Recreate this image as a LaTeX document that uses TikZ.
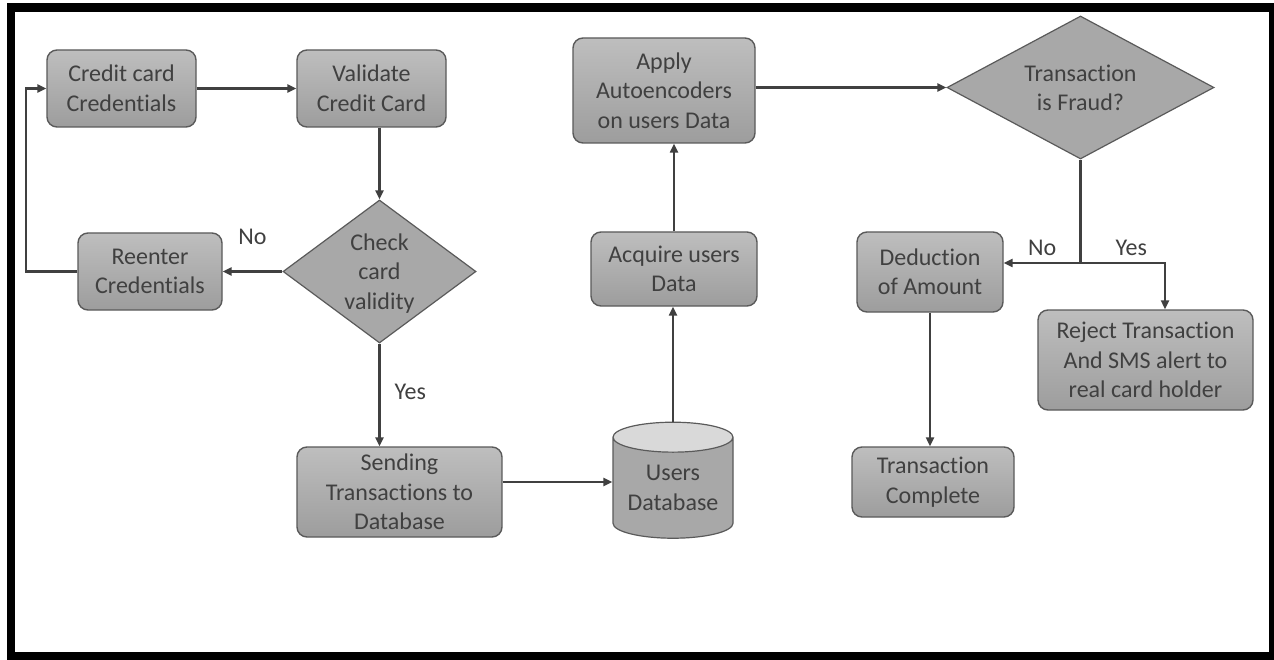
\documentclass[tikz,border=0pt]{standalone}
\usepackage{fontspec}
\setmainfont{Carlito}[Ligatures=NoCommon]
\usetikzlibrary{arrows.meta,positioning,shapes.geometric}
\definecolor{ffLine}{HTML}{404040}
\definecolor{ffEdge}{HTML}{5A5A5A}
\definecolor{ffTop}{HTML}{BEBEBE}
\definecolor{ffBot}{HTML}{9D9D9D}
\definecolor{ffFlat}{HTML}{A8A8A8}
\definecolor{ffCap}{HTML}{D9D9D9}

\begin{document}
\begin{tikzpicture}[x=1pt,y=-1pt,font=\fontsize{24}{29.5}\selectfont,box/.style={draw=ffEdge,line width=1.4pt,rounded corners=10pt,top color=ffTop,bottom color=ffBot,text=ffLine,align=center,inner sep=2pt},dia/.style={diamond,draw=ffEdge,line width=1.2pt,fill=ffFlat,inner sep=0pt},lbl/.style={text=ffLine,inner sep=0pt,text depth=0pt,align=center},arr/.style={-{Triangle[length=9pt,width=8pt]},line width=2.2pt,draw=ffLine}]
    \useasboundingbox (0,0) rectangle (1274,660);
    \fill[white] (0,0) rectangle (1274,660);
    \fill[black] (7,3) rectangle (1274,660);
    \fill[white] (15,12) rectangle (1269,652);
    % left column
    \node[box,minimum width=149pt,minimum height=77pt] (ccc) at (121.5,88.5) {Credit card\\Credentials};
    \node[box,minimum width=149pt,minimum height=77pt] (vcc) at (371.5,88.5) {Validate\\Credit Card};
    \node[box,minimum width=144pt,minimum height=77pt] (ree) at (150,271.5) {Reenter\\Credentials};
    \node[dia,minimum width=193pt,minimum height=143pt,label={[lbl]center:Check\\card\\validity}] (chk) at (379.5,271.5) {};
    \node[box,minimum width=205pt,minimum height=90pt] (snd) at (399.5,492) {Sending\\Transactions to\\Database};
    % middle column
    \node[cylinder,shape border rotate=90,aspect=0.33,draw=ffEdge,line width=1.2pt,cylinder uses custom fill,cylinder body fill=ffFlat,cylinder end fill=ffCap,minimum width=120pt,minimum height=116pt,text=ffLine,align=center,inner sep=0pt] (db) at (673,488) {Users\\Database};
    \node[box,minimum width=166pt,minimum height=74pt] (acq) at (674,269) {Acquire users\\Data};
    \node[box,minimum width=182pt,minimum height=105pt] (app) at (664,90.5) {Apply\\Autoencoders\\on users Data};
    % right column
    \node[dia,minimum width=267pt,minimum height=143pt,label={[lbl]center:Transaction\\is Fraud?}] (fraud) at (1080.5,87.5) {};
    \node[box,minimum width=146pt,minimum height=80pt] (ded) at (930,272) {Deduction\\of Amount};
    \node[box,minimum width=215pt,minimum height=100pt] (rej) at (1145.5,360) {Reject Transaction\\And SMS alert to\\real card holder};
    \node[box,minimum width=162pt,minimum height=70pt] (tc) at (933,482) {Transaction\\Complete};
    \coordinate (split) at (1080.5,263);

    \draw[arr] (ccc) -- (vcc);
    \draw[arr] (chk.north |- vcc.south) -- (chk.north);
    \draw[arr] (chk) -- node[lbl,above=26pt] (no1) {No} (ree);
    \draw[arr] (ree.west) -- ++(-51,0) |- (ccc.west);
    \draw[arr] (chk.south) -- node[lbl,right=14pt,pos=0.47] (yes1) {Yes} (chk.south |- snd.north);
    \draw[arr] ([yshift=10pt]snd.east) -- ([yshift=10pt]snd.east -| db.west);
    \draw[arr] (db.north) -- (db.north |- acq.south);
    \draw[arr] (acq.north) -- (acq.north |- app.south);
    \draw[arr] (app.east |- fraud.west) -- (fraud.west);
    \draw[line width=2.2pt,ffLine] (fraud.south) -- (split);
    \draw[arr] (split) -- node[lbl,above=6pt] (no2) {No} (split -| ded.east);
    \draw[arr] (split) -| node[lbl,above=6pt,pos=0.3] (yes2) {Yes} ([xshift=19.5pt]rej.north);
    \draw[arr] (ded) -- (ded.south |- tc.north);
  \end{tikzpicture}
\end{document}
